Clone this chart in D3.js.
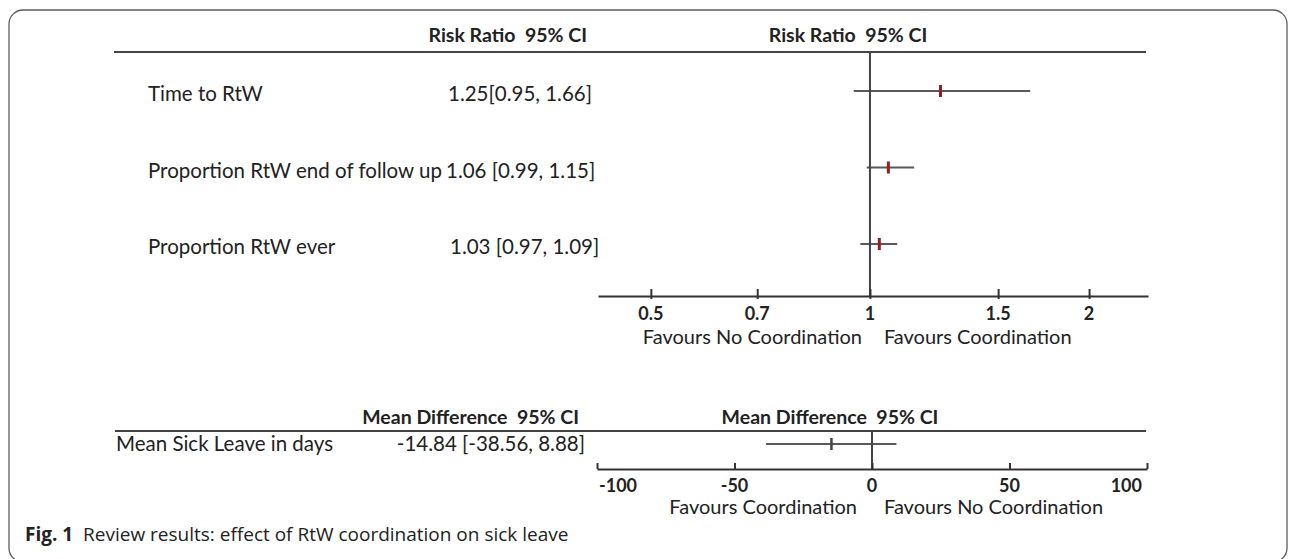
<!DOCTYPE html>
<html>
<head>
<meta charset="utf-8">
<script src="https://cdn.jsdelivr.net/npm/d3@7"></script>
<style>
  body { margin: 0; background: #fff; }
  svg text { font-family: Lato, "Open Sans", sans-serif; fill: #222; white-space: pre; }
</style>
</head>
<body>
<div id="vis"></div>
<script>
// risk ratio outcomes
var rrLabels = ["Time to RtW", "Proportion RtW end of follow up", "Proportion RtW ever"];
var rrEst = [1.25, 1.06, 1.03];
var rrLow = [0.95, 0.99, 0.97];
var rrHigh = [1.66, 1.15, 1.09];
var rrText = ["1.25[0.95, 1.66]", "1.06 [0.99, 1.15]", "1.03 [0.97, 1.09]"];
var rrTicks = [0.5, 0.7, 1, 1.5, 2];

// mean difference outcome
var mdLabels = ["Mean Sick Leave in days"];
var mdEst = [-14.84];
var mdLow = [-38.56];
var mdHigh = [8.88];
var mdText = ["-14.84 [-38.56, 8.88]"];
var mdTicks = [-100, -50, 0, 50, 100];

var width = 1295, height = 559;

var svg = d3.select("#vis").append("svg")
    .attr("width", width)
    .attr("height", height);

// frame around the figure
svg.append("rect")
    .attr("x", 9).attr("y", 10)
    .attr("width", 1278).attr("height", 552)
    .attr("rx", 14)
    .attr("fill", "none")
    .attr("stroke", "#5c5c5c")
    .attr("stroke-width", 1.3);

/* ---------- top panel: risk ratios ---------- */
var x = d3.scaleLog().domain([0.423, 2.41]).range([598, 1148]);
var y = d3.scalePoint().domain(rrLabels).range([91, 244]);
var axisY = 296, lineTop = 52;

svg.append("text").attr("x", 587).attr("y", 42)
    .attr("text-anchor", "end").attr("font-size", "19.5px").attr("font-weight", "bold")
    .text("Risk Ratio  95% CI");
svg.append("text").attr("x", 848).attr("y", 42)
    .attr("text-anchor", "middle").attr("font-size", "19.5px").attr("font-weight", "bold")
    .text("Risk Ratio  95% CI");

svg.append("line")
    .attr("x1", 114).attr("x2", 1146)
    .attr("y1", lineTop).attr("y2", lineTop)
    .attr("stroke", "#444").attr("stroke-width", 2);

var rows = svg.append("g").selectAll("g")
    .data(rrLabels)
    .enter().append("g");

rows.append("text")
    .attr("x", 148)
    .attr("y", function(d) { return y(d) + 10; })
    .attr("font-size", "20.5px")
    .text(function(d) { return d; });

var valX = [448, 446, 450];
rows.append("text")
    .attr("x", function(d, i) { return valX[i]; })
    .attr("y", function(d) { return y(d) + 10; })
    .attr("font-size", "20.5px")
    .text(function(d, i) { return rrText[i]; });

// confidence intervals
rows.append("line")
    .attr("x1", function(d, i) { return x(rrLow[i]); })
    .attr("x2", function(d, i) { return x(rrHigh[i]); })
    .attr("y1", function(d) { return y(d); })
    .attr("y2", function(d) { return y(d); })
    .attr("stroke", "#5a5a5a").attr("stroke-width", 2);

// line of no effect
svg.append("line")
    .attr("x1", x(1)).attr("x2", x(1))
    .attr("y1", lineTop).attr("y2", axisY)
    .attr("stroke", "#444").attr("stroke-width", 2);

// point estimates
rows.append("rect")
    .attr("x", function(d, i) { return x(rrEst[i]) - 1.5; })
    .attr("y", function(d) { return y(d) - 6; })
    .attr("width", 3).attr("height", 12)
    .attr("fill", "#9b1c1c");

var gx = svg.append("g")
    .attr("transform", "translate(0," + axisY + ")")
    .call(d3.axisTop(x).tickValues(rrTicks).tickSize(7).tickSizeOuter(0).tickFormat(""));
gx.select(".domain").attr("stroke", "#333").attr("stroke-width", 2);
gx.selectAll(".tick line").attr("stroke", "#333").attr("stroke-width", 2).attr("y2", 3).attr("y1", -7);

svg.append("g").selectAll("text")
    .data(rrTicks)
    .enter().append("text")
    .attr("x", function(d) { return x(d); })
    .attr("y", axisY + 24)
    .attr("text-anchor", "middle")
    .attr("font-size", "18px").attr("font-weight", "bold")
    .text(function(d) { return d; });

svg.append("text").attr("x", x(1) - 8).attr("y", axisY + 48)
    .attr("text-anchor", "end").attr("font-size", "20px")
    .text("Favours No Coordination");
svg.append("text").attr("x", x(1) + 14).attr("y", axisY + 48)
    .attr("font-size", "20px")
    .text("Favours Coordination");

/* ---------- bottom panel: mean difference ---------- */
var x2 = d3.scaleLinear().domain([-100, 100]).range([597, 1147]);
var rowY = 444, axis2Y = 469, line2 = 431;

svg.append("text").attr("x", 579).attr("y", 424)
    .attr("text-anchor", "end").attr("font-size", "19.5px").attr("font-weight", "bold")
    .text("Mean Difference  95% CI");
svg.append("text").attr("x", 830).attr("y", 424)
    .attr("text-anchor", "middle").attr("font-size", "19.5px").attr("font-weight", "bold")
    .text("Mean Difference  95% CI");

svg.append("line")
    .attr("x1", 115).attr("x2", 1146)
    .attr("y1", line2).attr("y2", line2)
    .attr("stroke", "#444").attr("stroke-width", 2);

svg.append("text").attr("x", 116).attr("y", rowY + 7)
    .attr("font-size", "20.5px")
    .text(mdLabels[0]);
svg.append("text").attr("x", 585).attr("y", rowY + 7)
    .attr("text-anchor", "end").attr("font-size", "20.5px")
    .text(mdText[0]);

svg.append("line")
    .attr("x1", x2(mdLow[0])).attr("x2", x2(mdHigh[0]))
    .attr("y1", rowY).attr("y2", rowY)
    .attr("stroke", "#5a5a5a").attr("stroke-width", 2);

svg.append("line")
    .attr("x1", x2(0)).attr("x2", x2(0))
    .attr("y1", line2).attr("y2", axis2Y)
    .attr("stroke", "#444").attr("stroke-width", 2);

svg.append("rect")
    .attr("x", x2(mdEst[0]) - 1).attr("y", rowY - 6)
    .attr("width", 2.5).attr("height", 12)
    .attr("fill", "#444");

var gx2 = svg.append("g")
    .attr("transform", "translate(0," + axis2Y + ")")
    .call(d3.axisTop(x2).tickValues(mdTicks).tickSize(6).tickSizeOuter(0).tickFormat(""));
gx2.select(".domain").attr("stroke", "#333").attr("stroke-width", 2);
gx2.selectAll(".tick line").attr("stroke", "#333").attr("stroke-width", 2);

var lastTick = mdTicks.length - 1;
svg.append("g").selectAll("text")
    .data(mdTicks)
    .enter().append("text")
    .attr("x", function(d, i) { return x2(d) + (i == 0 ? 2 : (i == lastTick ? -5 : 0)); })
    .attr("y", axis2Y + 23)
    .attr("text-anchor", function(d, i) { return i == 0 ? "start" : (i == lastTick ? "end" : "middle"); })
    .attr("font-size", "18px").attr("font-weight", "bold")
    .text(function(d) { return d; });

svg.append("text").attr("x", x2(0) - 15).attr("y", axis2Y + 45)
    .attr("text-anchor", "end").attr("font-size", "20px")
    .text("Favours Coordination");
svg.append("text").attr("x", x2(0) + 12).attr("y", axis2Y + 45)
    .attr("font-size", "20px")
    .text("Favours No Coordination");

/* caption */
var cap = svg.append("text").attr("x", 25).attr("y", 541)
    .style("font-family", "'Open Sans', sans-serif")
    .attr("font-size", "19px");
cap.append("tspan").attr("font-weight", "bold").text("Fig. 1");
cap.append("tspan").text("  Review results: effect of RtW coordination on sick leave");
</script>
</body>
</html>
